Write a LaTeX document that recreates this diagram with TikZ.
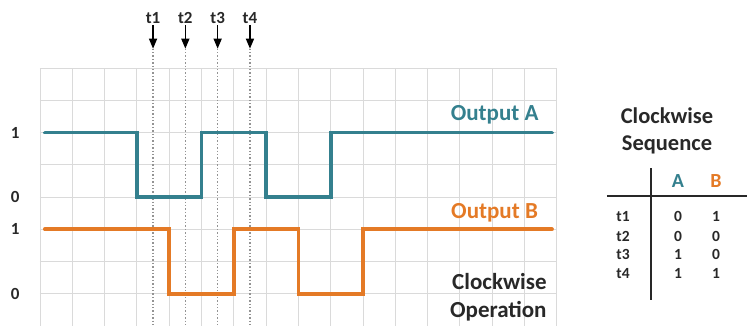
\documentclass[tikz,border=0pt]{standalone}
\usepackage{fontspec}
\setmainfont{Carlito}
\usetikzlibrary{arrows.meta}

\definecolor{tealA}{RGB}{52,128,142}
\definecolor{orangeB}{RGB}{228,122,38}
\definecolor{gridgray}{RGB}{218,218,218}
\definecolor{txtgray}{RGB}{40,40,40}

\begin{document}
\begin{tikzpicture}[x=32.3pt, y=-32.25pt, >={Triangle[length=10pt,width=8pt]},
    gridline/.style={gridgray, line width=0.9pt},
    signal/.style={line width=3.8pt, line cap=round},
    marker/.style={gray!85, line width=1.2pt, dash pattern=on 1.4pt off 2pt},
    lvl/.style={inner sep=1pt, text=txtgray, font=\bfseries\fontsize{17}{18}\selectfont},
    bigtxt/.style={inner sep=1pt, font=\bfseries\fontsize{23}{28}\selectfont},
    cell/.style={inner sep=1pt, text=txtgray, font=\bfseries\fontsize{15.5}{16}\selectfont},
    rule/.style={txtgray, line width=1.4pt}]

    \useasboundingbox (-1.238,-2.109) rectangle (21.98,8);

    % Raster
    \foreach \gx in {0,...,16} \draw[gridline] (\gx,0) -- (\gx,8);
    \foreach \gy in {0,...,7} \draw[gridline] (0,\gy) -- (16,\gy);

    % Pegel
    \foreach \n/\yy/\v in {lA1/2/1, lA0/4/0, lB1/5/1, lB0/7/0}
        \node[lvl] (\n) at (-0.77,\yy) {\v};

    % Zeitpunkte
    \foreach \i/\xx in {1/3.5, 2/4.5, 3/5.5, 4/6.5} {
        \node[lvl] (t\i) at (\xx,-1.55) {t\i};
        \coordinate (tip\i) at (\xx,-0.6);
        \coordinate (bot\i) at (\xx,8);
        \draw[marker] (tip\i) -- (bot\i);
        \draw[->, line width=1.5pt] (t\i) -- (tip\i);
    }

    % Ausgang A
    \draw[signal, tealA] (0.15,2) -- (3,2) -- (3,4) -- (5,4) -- (5,2) -- (7,2)
        -- (7,4) -- (9,4) -- (9,2) -- (15.85,2);
    \node[bigtxt, text=tealA, anchor=east] (outA) at (15.47,1.45) {Output A};

    % Ausgang B
    \draw[signal, orangeB] (0.15,5) -- (4,5) -- (4,7) -- (6,7) -- (6,5) -- (8,5)
        -- (8,7) -- (10,7) -- (10,5) -- (15.85,5);
    \node[bigtxt, text=orangeB, anchor=east] (outB) at (15.45,4.5) {Output B};

    \node[bigtxt, text=txtgray, anchor=east, align=right] (cwop) at (15.72,7.12)
        {Clockwise\\Operation};

    % Tabelle
    \node[bigtxt, text=txtgray, align=center, font=\bfseries\fontsize{22.5}{27}\selectfont]
        (seqtitle) at (19.41,1.94) {Clockwise\\Sequence};
    \node[bigtxt, text=tealA, font=\bfseries\fontsize{20}{20}\selectfont] (colA) at (19.75,3.5) {A};
    \node[bigtxt, text=orangeB, font=\bfseries\fontsize{20}{20}\selectfont] (colB) at (20.93,3.5) {B};
    \coordinate (hl) at (17.55,3.97);
    \coordinate (hr) at (21.89,3.97);
    \coordinate (vt) at (18.92,3.10);
    \coordinate (vb) at (18.92,7.19);
    \draw[rule] (hl) -- (hr);
    \draw[rule] (vt) -- (vb);
    \foreach \i/\yy/\a/\b in {1/4.59/0/1, 2/5.21/0/0, 3/5.77/1/0, 4/6.36/1/1} {
        \node[cell] (r\i) at (18.05,\yy) {t\i};
        \node[cell] (a\i) at (19.75,\yy) {\a};
        \node[cell] (b\i) at (20.93,\yy) {\b};
    }

\end{tikzpicture}
\end{document}
